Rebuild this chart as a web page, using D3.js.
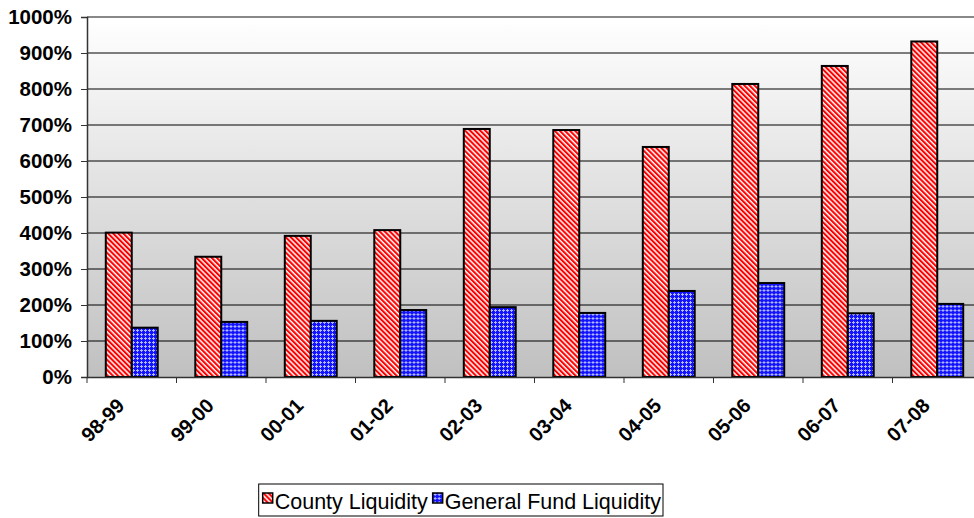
<!DOCTYPE html>
<html>
<head>
<meta charset="utf-8">
<script src="https://cdn.jsdelivr.net/npm/d3@7"></script>
<style>
    body { margin: 0; background: #fff; }
    svg text { font-family: Arial, "Liberation Sans", sans-serif; }
</style>
</head>
<body>
<div id="graph-div"></div>
<script>
// data
const years = ['98-99', '99-00', '00-01', '01-02', '02-03', '03-04', '04-05', '05-06', '06-07', '07-08'];
const countyLiquidity = [401, 334, 392, 408, 689, 686, 639, 814, 864, 932];
const generalFundLiquidity = [137, 153, 156, 186, 194, 178, 239, 261, 177, 203];
const seriesNames = ['County Liquidity', 'General Fund Liquidity'];
const yTicks = [0, 100, 200, 300, 400, 500, 600, 700, 800, 900, 1000];

const w = 974;
const h = 518;
const plotLeft = 87;
const plotRight = 982;
const plotTop = 17;
const plotBottom = 377;

const svg = d3.select('#graph-div')
    .append('svg')
    .attr('width', w)
    .attr('height', h);

const defs = svg.append('defs');

// plot background gradient
const grad = defs.append('linearGradient')
    .attr('id', 'bg-grad')
    .attr('x1', 0).attr('y1', 0).attr('x2', 0).attr('y2', 1);
grad.append('stop').attr('offset', '0%').attr('stop-color', '#ffffff');
grad.append('stop').attr('offset', '100%').attr('stop-color', '#c0c0c0');

// red diagonal stripes
const redPat = defs.append('pattern')
    .attr('id', 'red-stripes')
    .attr('patternUnits', 'userSpaceOnUse')
    .attr('width', 3.6)
    .attr('height', 10)
    .attr('patternTransform', 'rotate(-45)');
redPat.append('rect').attr('width', 3.6).attr('height', 10).attr('fill', '#ffffff');
redPat.append('rect').attr('width', 2.1).attr('height', 10).attr('fill', '#ff0000');

// blue lattice
const bluePat = defs.append('pattern')
    .attr('id', 'blue-grid')
    .attr('patternUnits', 'userSpaceOnUse')
    .attr('width', 4)
    .attr('height', 4);
bluePat.append('rect').attr('width', 4).attr('height', 4).attr('fill', '#1414ff');
bluePat.append('rect').attr('x', 1).attr('y', 2).attr('width', 3).attr('height', 1).attr('fill', '#b0b8ff');
bluePat.append('rect').attr('x', 2).attr('y', 1).attr('width', 1).attr('height', 3).attr('fill', '#b0b8ff');

const fills = ['url(#red-stripes)', 'url(#blue-grid)'];

const xScale = d3.scaleBand()
    .domain(years)
    .range([plotLeft, plotRight]);

const barScale = d3.scaleBand()
    .domain(seriesNames)
    .range([xScale.bandwidth() * 0.21, xScale.bandwidth() * 0.79]);

const yScale = d3.scaleLinear()
    .domain([0, 1000])
    .range([plotBottom, plotTop]);

svg.append('rect')
    .attr('x', plotLeft)
    .attr('y', plotTop)
    .attr('width', plotRight - plotLeft)
    .attr('height', plotBottom - plotTop)
    .attr('fill', 'url(#bg-grad)');

// gridlines
svg.append('g')
    .selectAll('line')
    .data(yTicks.filter(d => d > 0 && d < 1000))
    .enter()
    .append('line')
    .attr('x1', plotLeft)
    .attr('x2', plotRight)
    .attr('y1', d => yScale(d))
    .attr('y2', d => yScale(d))
    .attr('stroke', '#000')
    .attr('stroke-width', 1);

svg.append('line')
    .attr('x1', plotLeft)
    .attr('x2', plotRight)
    .attr('y1', plotTop)
    .attr('y2', plotTop)
    .attr('stroke', '#888')
    .attr('stroke-width', 2);

// bars
const rows = years.map((y, i) => ({ year: y, values: [countyLiquidity[i], generalFundLiquidity[i]] }));

svg.append('g')
    .selectAll('g')
    .data(rows)
    .enter()
    .append('g')
    .attr('transform', d => `translate(${xScale(d.year)},0)`)
    .selectAll('rect')
    .data(d => d.values.map((v, j) => ({ series: seriesNames[j], value: v, fill: fills[j] })))
    .enter()
    .append('rect')
    .attr('x', d => barScale(d.series))
    .attr('y', d => yScale(d.value))
    .attr('width', barScale.bandwidth())
    .attr('height', d => plotBottom - yScale(d.value))
    .attr('fill', d => d.fill)
    .attr('stroke', '#000')
    .attr('stroke-width', 2);

// axes
const yAxis = d3.axisLeft(yScale)
    .tickValues(yTicks)
    .tickFormat(d => d + '%')
    .tickSize(6)
    .tickPadding(9);

const yG = svg.append('g')
    .attr('transform', `translate(${plotLeft},0)`)
    .call(yAxis);
yG.select('.domain').attr('stroke', '#333').attr('stroke-width', 1.5);
yG.selectAll('.tick line').attr('stroke', '#333');
yG.selectAll('text')
    .style('font-size', '20.5px')
    .style('font-weight', 'bold')
    .attr('fill', '#000');

const xAxis = d3.axisBottom(xScale)
    .tickSize(0)
    .tickFormat(d => d);

const xG = svg.append('g')
    .attr('transform', `translate(0,${plotBottom})`)
    .call(xAxis);
xG.select('.domain').attr('stroke', '#333').attr('stroke-width', 1.5);
xG.selectAll('text')
    .style('font-size', '20px')
    .style('font-weight', 'bold')
    .attr('fill', '#000')
    .attr('text-anchor', 'end')
    .attr('transform', 'translate(-11,25) rotate(-45)')
    .attr('dy', '0.35em')
    .attr('y', 0);

// tick marks between the categories
svg.append('g')
    .selectAll('line')
    .data(years.concat(['end']))
    .enter()
    .append('line')
    .attr('x1', (d, i) => i < years.length ? xScale(d) : plotRight)
    .attr('x2', (d, i) => i < years.length ? xScale(d) : plotRight)
    .attr('y1', plotBottom)
    .attr('y2', plotBottom + 6)
    .attr('stroke', '#333');

// legend, laid out from its right edge
const legendRight = 663;
const legend = svg.append('g');
const legendBox = legend.append('rect')
    .attr('fill', '#fff')
    .attr('stroke', '#000')
    .attr('stroke-width', 1);

const items = legend.selectAll('g.item')
    .data(seriesNames)
    .enter()
    .append('g')
    .attr('class', 'item');
items.append('rect')
    .attr('y', 493)
    .attr('width', 10)
    .attr('height', 10)
    .attr('fill', (d, i) => fills[i])
    .attr('stroke', '#000')
    .attr('stroke-width', 1.5);
items.append('text')
    .attr('x', 12)
    .attr('y', 509)
    .style('font-size', '21.5px')
    .text(d => d);

let cursor = 0;
const offsets = [];
items.each(function() {
    offsets.push(cursor);
    cursor += 12 + d3.select(this).select('text').node().getComputedTextLength() + 5;
});
const legendLeft = legendRight - cursor - 1;
items.attr('transform', (d, i) => `translate(${legendLeft + 4 + offsets[i]},0)`);

legendBox
    .attr('x', legendLeft)
    .attr('y', 484)
    .attr('width', legendRight - legendLeft)
    .attr('height', 32);
</script>
</body>
</html>
